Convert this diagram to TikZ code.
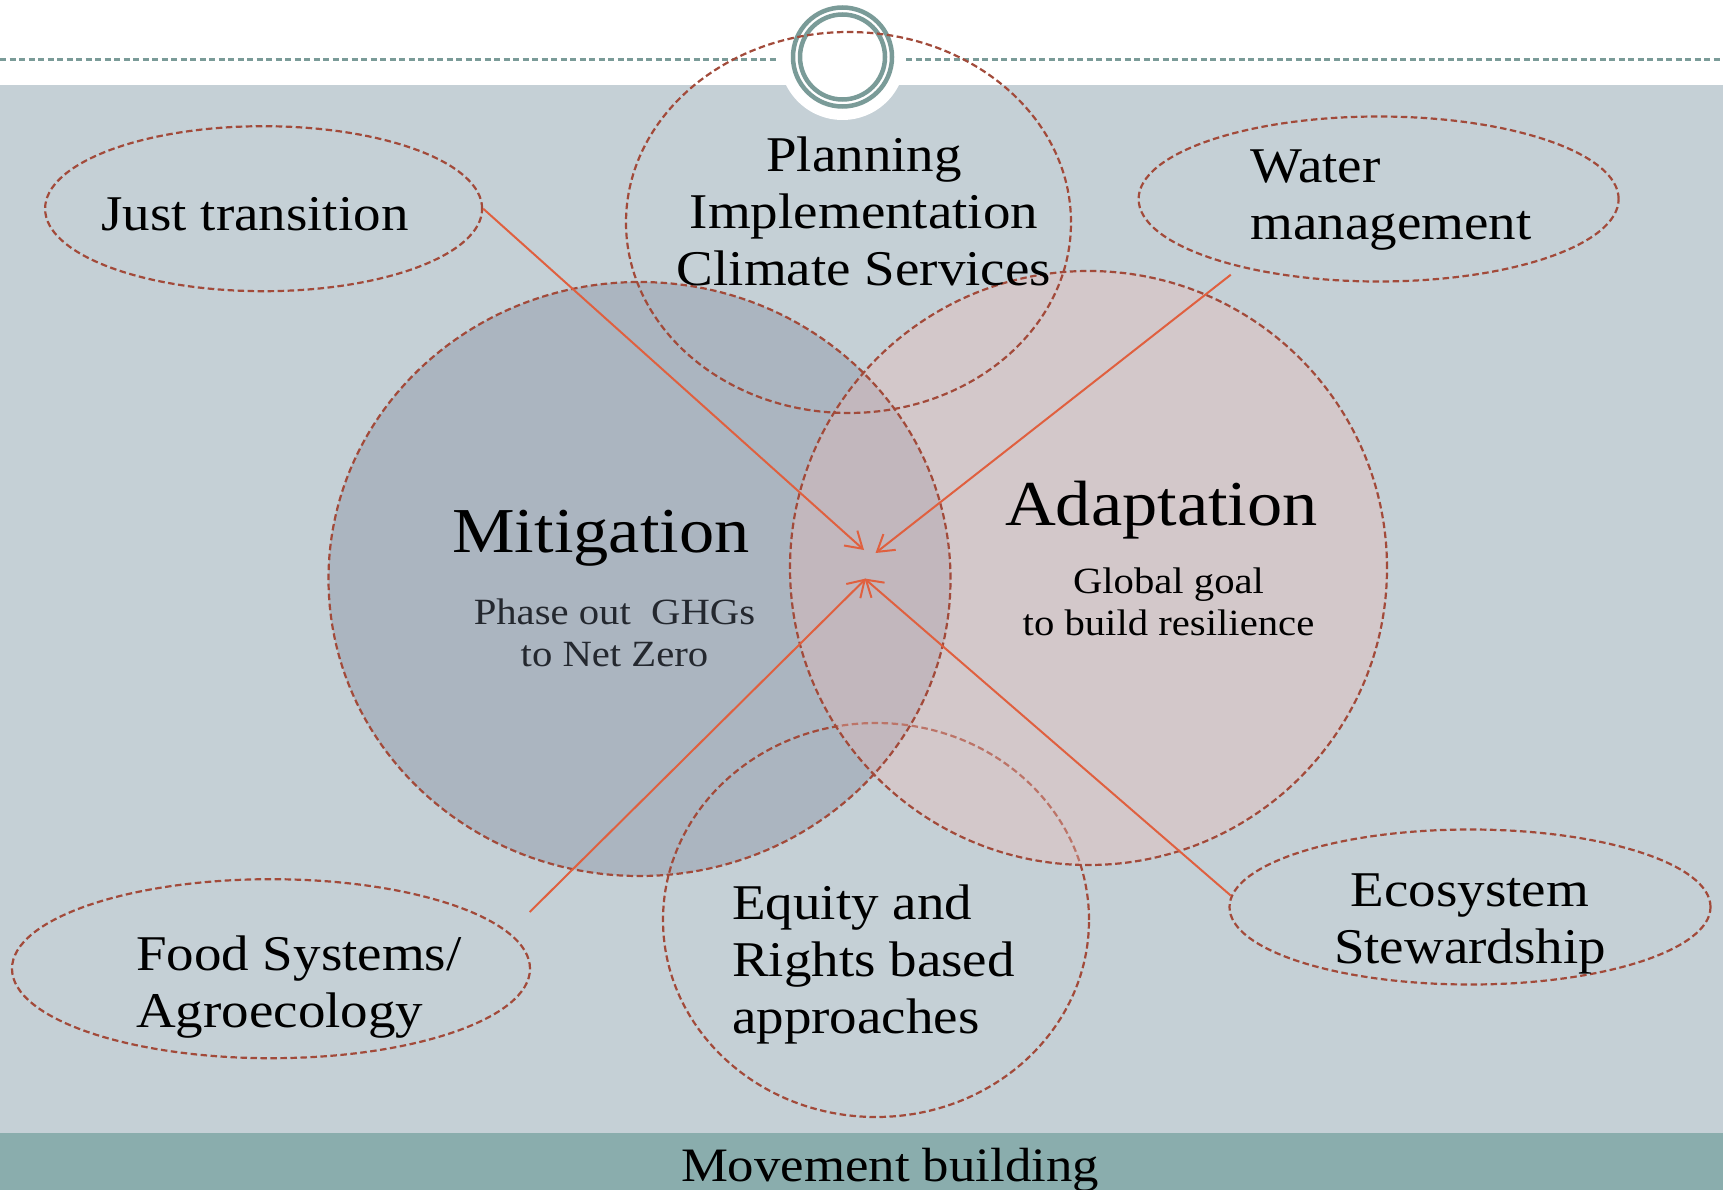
\documentclass[tikz,border=0pt]{standalone}
\usepackage{fontspec}
\setmainfont{Liberation Serif}[FakeStretch=1.1]
\usetikzlibrary{shapes.geometric,arrows.meta}
\definecolor{bgc}{HTML}{C5D0D6}
\definecolor{bandc}{HTML}{8AADAD}
\definecolor{ringc}{HTML}{7A9B98}
\definecolor{outl}{HTML}{A24A3A}
\definecolor{arrc}{HTML}{E0603F}
\definecolor{mitc}{HTML}{ABB5C0}
\definecolor{adac}{RGB}{235,189,184}
\definecolor{subt}{HTML}{24282F}
\begin{document}
\begin{tikzpicture}[x=1pt,y=-1pt,
  blob/.style={ellipse, draw=outl, line width=2.2pt, dash pattern=on 6.5pt off 3.5pt, inner sep=0pt},
  conn/.style={draw=arrc, line width=2pt, -{Straight Barb[length=16pt,width=20pt]}},
  bigtxt/.style={font=\fontsize{50}{57}\selectfont, align=center, inner sep=0pt, anchor=base},
  leftbig/.style={font=\fontsize{50}{57}\selectfont, align=left, inner sep=0pt, anchor=base west},
  title/.style={font=\fontsize{64}{70}\selectfont, inner sep=0pt, anchor=base},
  subtxt/.style={font=\fontsize{37}{42}\selectfont, align=center, inner sep=0pt, anchor=base},
]
\useasboundingbox (0,0) rectangle (1723,1190);
% background
\fill[white] (0,0) rectangle (1723,1190);
\fill[bgc] (0,85) rectangle (1723,1133);
\fill[bandc] (0,1133) rectangle (1723,1190);
\fill[white] (842.5,57) circle [radius=63];
\draw[ringc, line width=2.5pt, dash pattern=on 6pt off 3.5pt] (0,59.5) -- (776,59.5);
\draw[ringc, line width=2.5pt, dash pattern=on 6pt off 3.5pt] (906,59.5) -- (1723,59.5);
\draw[ringc, line width=4.5pt] (842.5,57) circle [radius=49.5];
\draw[ringc, line width=4.5pt] (842.5,57) circle [radius=42.5];
% fills
\fill[mitc] (639.5,579) ellipse [x radius=311, y radius=297];
\node[blob, minimum width=426pt, minimum height=394pt] (eq) at (876,920) {};
\fill[adac, fill opacity=0.37] (1088.5,568) ellipse [x radius=298.5, y radius=297];
% outlines
\node[blob, minimum width=622pt, minimum height=594pt] (mit) at (639.5,579) {};
\node[blob, minimum width=597pt, minimum height=594pt] (ada) at (1088.5,568) {};
\node[blob, minimum width=445pt, minimum height=381pt] (plan) at (848.5,222.5) {};
\node[blob, minimum width=437pt, minimum height=165pt] (jt) at (263.6,208.7) {};
\node[blob, minimum width=480pt, minimum height=165pt] (wm) at (1378.6,199) {};
\node[blob, minimum width=518pt, minimum height=179pt] (food) at (271,968.7) {};
\node[blob, minimum width=481pt, minimum height=155pt] (eco) at (1470,907) {};
% connectors
\coordinate (t1) at (864,550);
\coordinate (t2) at (875.5,553);
\coordinate (t3) at (866,578.5);
\coordinate (t4) at (864.5,578.5);
\coordinate (s2) at (1230.8,274.7);
\coordinate (s3) at (529.7,912);
\coordinate (s4) at (1230.8,895.6);
\draw[conn] (jt.east) -- (t1);
\draw[conn] (s2) -- (t2);
\draw[conn] (s3) -- (t3);
\draw[conn] (s4) -- (t4);
% texts (base anchor = baseline of last line)
\node[bigtxt] (jtT) at (255,230.8) {Just transition};
\node[bigtxt] (planT) at (864,285.7) {Planning\\Implementation\\Climate Services};
\node[leftbig] (wmT) at (1250.5,239.6) {Water\\management};
\node[title] (mitT) at (601,552.7) {Mitigation};
\node[subtxt, text=subt] (mitS) at (614.5,666.5) {Phase out~~GHGs\\to Net Zero};
\node[title] (adaT) at (1161.5,525) {Adaptation};
\node[subtxt] (adaS) at (1168.5,635) {Global goal\\to build resilience};
\node[leftbig] (eqT) at (732,1033) {Equity and\\Rights based\\approaches};
\node[leftbig] (foodT) at (136,1027.5) {Food Systems/\\Agroecology};
\node[bigtxt] (ecoT) at (1470,963.7) {Ecosystem\\Stewardship};
\node[font=\fontsize{48}{52}\selectfont, inner sep=0pt, anchor=base] (mbT) at (890,1181) {Movement building};
\end{tikzpicture}
\end{document}
